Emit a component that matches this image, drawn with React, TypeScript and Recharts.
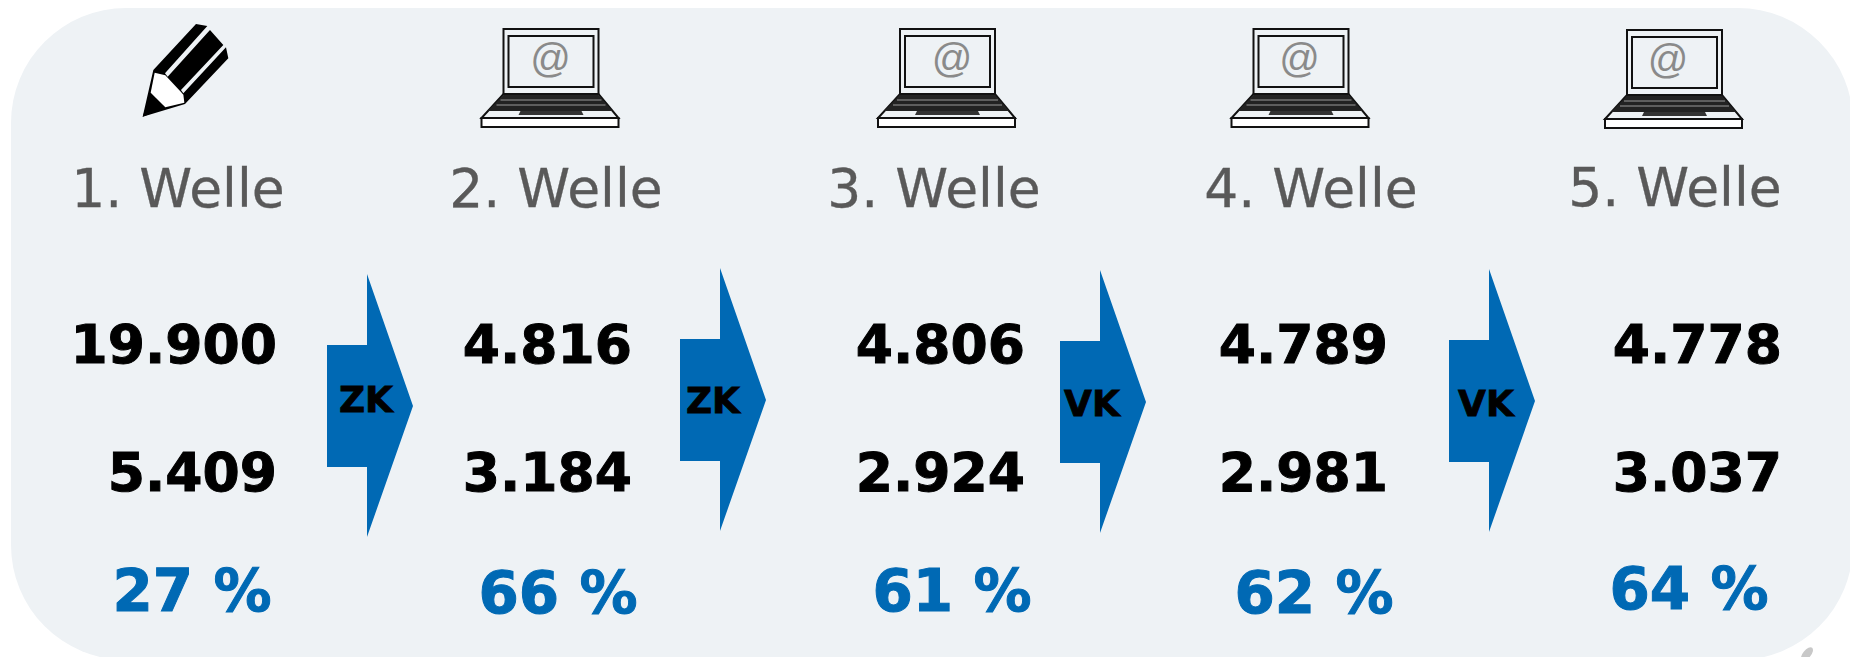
import { ScatterChart, Scatter, XAxis, YAxis, ReferenceArea, Rectangle } from "recharts"

// values
const waves = ["1. Welle", "2. Welle", "3. Welle", "4. Welle", "5. Welle"]
const contacted = [19900, 4816, 4806, 4789, 4778]
const responded = [5409, 3184, 2924, 2981, 3037]
const rates = [27, 66, 61, 62, 64]
const transitions = ["ZK", "ZK", "VK", "VK"]

// layout, in picture pixels
const WIDTH = 1850
const HEIGHT = 657
const BLUE = "#0069b4"
const PANEL = "#eef2f5"
const labelCenters = [178, 556, 934, 1311, 1675]
const labelBaselines = [207, 207, 207, 207, 206]
const numberRights = [277, 632, 1025, 1388, 1782]
const contactedBaseline = 363
const respondedBaseline = 491
const rateCenters = [192, 558, 952, 1314, 1689]
const rateBaselines = [611, 613, 611, 613, 609]
const arrowLefts = [327, 680, 1060, 1449]
const arrowTips = [406, 400, 402, 401]
const arrowLabelCenters = [366, 713, 1092, 1486]
const arrowLabelBaselines = [412, 413, 416, 416]
const iconCenters = [190, 550.5, 947, 1300.5, 1674]
const iconBottoms = [127, 127, 127, 127, 128]
const atOffsets = [0, 0, 5, -1, -6]
const smudge = [{ x: 1807, y: 654 }]

const formatNumber = (v: number) => String(v).replace(/\B(?=(\d{3})+$)/g, ".")

const labelData = waves.map((text, i) => ({ x: labelCenters[i], y: labelBaselines[i], text }))
const contactedData = contacted.map((v, i) => ({ x: numberRights[i], y: contactedBaseline, text: formatNumber(v) }))
const respondedData = responded.map((v, i) => ({ x: numberRights[i], y: respondedBaseline, text: formatNumber(v) }))
const rateData = rates.map((v, i) => ({ x: rateCenters[i], y: rateBaselines[i], text: `${v} %` }))
const arrowData = transitions.map((_, i) => ({ x: arrowLefts[i], y: arrowTips[i] }))
const arrowLabelData = transitions.map((text, i) => ({ x: arrowLabelCenters[i], y: arrowLabelBaselines[i], text }))
const iconData = iconCenters.map((x, i) => ({
  x,
  y: iconBottoms[i],
  kind: i === 0 ? "pencil" : "laptop",
  atOffset: atOffsets[i],
}))

const FONT = "'DejaVu Sans', Verdana, sans-serif"

function textShape(size: number, fill: string, weight: string, anchor: "middle" | "end", thicken = 0) {
  return (props: any) => (
    <text
      x={props.cx}
      y={props.cy}
      fontFamily={FONT}
      fontSize={size}
      fontWeight={weight}
      fill={fill}
      stroke={thicken ? fill : "none"}
      strokeWidth={thicken}
      textAnchor={anchor}
    >
      {props.payload.text}
    </text>
  )
}

function ArrowShape(props: any) {
  const { cx, cy } = props
  const points = [
    [cx, cy - 61],
    [cx + 40, cy - 61],
    [cx + 40, cy - 132],
    [cx + 86, cy],
    [cx + 40, cy + 131],
    [cx + 40, cy + 61],
    [cx, cy + 61],
  ]
    .map((p) => p.join(","))
    .join(" ")
  return <polygon points={points} fill={BLUE} />
}

function Pencil() {
  // drawn around its own origin, the point being the bottom centre of the icon row
  return (
    <g transform="translate(-70,-117) scale(0.3333)">
      <polygon
        points="68,320 100,180 228,42 262,48 135,190 143,200 270,60 310,105 183,240 190,250 318,112 325,145 195,282"
        fill="#000"
      />
      <polygon points="104,188 136,196 183,246 190,254 193,278 136,292 92,248" fill="#fff" />
      <polygon points="92,250 134,294 68,320" fill="#000" />
    </g>
  )
}

function Laptop({ atOffset }: { atOffset: number }) {
  const stroke = "#111"
  return (
    <g transform="translate(0,-98)" fill="none">
      <rect x={-47} y={0} width={95} height={65} stroke={stroke} strokeWidth={2} />
      <rect x={-42} y={7} width={85} height={51} stroke={stroke} strokeWidth={2} />
      <text
        x={atOffset}
        y={43}
        fontFamily="'Liberation Sans', Arial, sans-serif"
        fontSize={40}
        fill="#8a8a8a"
        textAnchor="middle"
      >
        @
      </text>
      <polygon points="-47,65 48,65 68,89 -69,89" fill={PANEL} stroke={stroke} strokeWidth={2} />
      <polygon points="-47,66 48,66 62,82 -63,82" fill="#222" />
      <path d="M-50,71H51M-54,76H55" stroke="#999" strokeWidth={1} />
      <polygon points="-30,82 31,82 33,86 -32,86" fill="#333" />
      <rect x={-69} y={89} width={137} height={9} fill="#fff" stroke={stroke} strokeWidth={2} />
    </g>
  )
}

function IconShape(props: any) {
  const { cx, cy, payload } = props
  return (
    <g transform={`translate(${cx},${cy})`}>
      {payload.kind === "pencil" ? <Pencil /> : <Laptop atOffset={payload.atOffset} />}
    </g>
  )
}

function SmudgeShape(props: any) {
  return (
    <ellipse
      cx={props.cx}
      cy={props.cy}
      rx={4}
      ry={8}
      fill="#c8c8c8"
      transform={`rotate(40 ${props.cx} ${props.cy})`}
    />
  )
}

function PanelShape(props: any) {
  return (
    <Rectangle
      x={props.x}
      y={props.y}
      width={props.width + 3}
      height={props.height + 3}
      radius={115}
      fill={PANEL}
    />
  )
}

export default function App() {
  return (
    <div style={{ position: "absolute", left: 0, top: 0, width: WIDTH, height: HEIGHT, background: "#fff" }}>
      <ScatterChart width={WIDTH} height={HEIGHT} margin={{ top: 0, right: 0, bottom: 0, left: 0 }}>
        <XAxis type="number" dataKey="x" domain={[0, WIDTH]} hide />
        <YAxis type="number" dataKey="y" domain={[0, HEIGHT]} reversed hide />
        <ReferenceArea x1={11} x2={WIDTH} y1={8} y2={HEIGHT} shape={PanelShape} ifOverflow="visible" />
        <Scatter data={smudge} shape={SmudgeShape} isAnimationActive={false} />
        <Scatter data={iconData} shape={IconShape} isAnimationActive={false} />
        <Scatter data={labelData} shape={textShape(53.5, "#595959", "normal", "middle", 0.3)} isAnimationActive={false} />
        <Scatter data={contactedData} shape={textShape(53.5, "#000", "bold", "end", 1)} isAnimationActive={false} />
        <Scatter data={respondedData} shape={textShape(53.5, "#000", "bold", "end", 1)} isAnimationActive={false} />
        <Scatter data={rateData} shape={textShape(58, BLUE, "bold", "middle", 1)} isAnimationActive={false} />
        <Scatter data={arrowData} shape={ArrowShape} isAnimationActive={false} />
        <Scatter data={arrowLabelData} shape={textShape(36, "#000", "bold", "middle", 0.8)} isAnimationActive={false} />
      </ScatterChart>
    </div>
  )
}
